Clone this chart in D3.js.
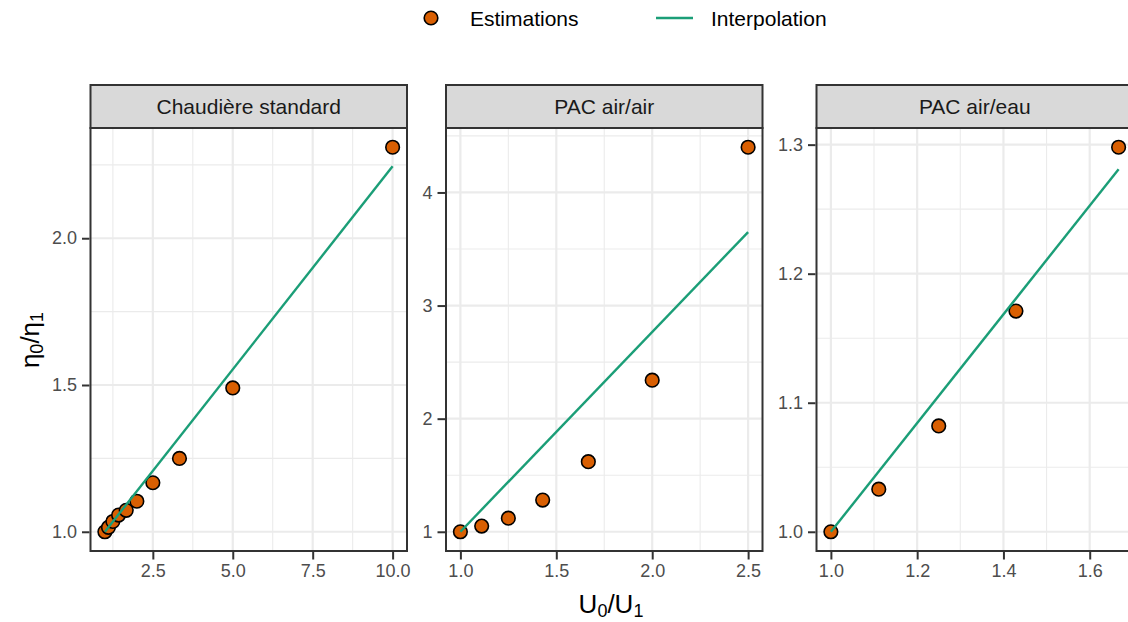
<!DOCTYPE html>
<html>
<head>
<meta charset="utf-8">
<script src="https://cdn.jsdelivr.net/npm/d3@7"></script>
<style>
  html, body { margin: 0; padding: 0; background: #ffffff; }
  svg { display: block; font-family: "Liberation Sans", Arial, Helvetica, sans-serif; }
</style>
</head>
<body>
<svg id="chart" width="1128" height="622"></svg>
<script>
// ---------- DATA ----------
const panelNames = ["Chaudière standard", "PAC air/air", "PAC air/eau"];

const chaudiereX = [1, 1.111, 1.25, 1.429, 1.667, 2, 2.5, 3.333, 5, 10];
const chaudiereY = [1.0, 1.015, 1.035, 1.057, 1.073, 1.104, 1.167, 1.25, 1.49, 2.31];
const chaudiereLineX = [1, 10];
const chaudiereLineY = [1.0, 2.245];

const airAirX = [1, 1.111, 1.25, 1.429, 1.667, 2, 2.5];
const airAirY = [1.0, 1.05, 1.12, 1.28, 1.62, 2.34, 4.40];
const airAirLineX = [1, 2.5];
const airAirLineY = [1.0, 3.65];

const airEauX = [1, 1.111, 1.25, 1.429, 1.667];
const airEauY = [1.0, 1.033, 1.082, 1.171, 1.298];
const airEauLineX = [1, 1.667];
const airEauLineY = [1.0, 1.281];

const chaudiereXTicks = [2.5, 5.0, 7.5, 10.0];
const chaudiereYTicks = [1.0, 1.5, 2.0];
const airAirXTicks = [1.0, 1.5, 2.0, 2.5];
const airAirYTicks = [1, 2, 3, 4];
const airEauXTicks = [1.0, 1.2, 1.4, 1.6];
const airEauYTicks = [1.0, 1.1, 1.2, 1.3];

const legendLabels = ["Estimations", "Interpolation"];

// ---------- STYLE / LAYOUT ----------
const pointFill = "#D95F02";
const lineColor = "#1B9E77";
const panelTop = 128, panelBottom = 551, stripTop = 85;
const panelWidth = 316.5;
const panelLefts = [90.5, 446, 816.5];
const xFormats = [".1f", ".1f", ".1f"];
const yFormats = [".1f", "d", ".1f"];

const panels = [
  { name: panelNames[0], x: chaudiereX, y: chaudiereY, lx: chaudiereLineX, ly: chaudiereLineY, xt: chaudiereXTicks, yt: chaudiereYTicks },
  { name: panelNames[1], x: airAirX, y: airAirY, lx: airAirLineX, ly: airAirLineY, xt: airAirXTicks, yt: airAirYTicks },
  { name: panelNames[2], x: airEauX, y: airEauY, lx: airEauLineX, ly: airEauLineY, xt: airEauXTicks, yt: airEauYTicks }
];

const svg = d3.select("#chart");

function expand(vals) {
  const [a, b] = d3.extent(vals);
  const p = (b - a) * 0.05;
  return [a - p, b + p];
}
function minorTicks(major, domain) {
  const step = major[1] - major[0];
  const out = [];
  out.push(major[0] - step / 2);
  for (let i = 0; i < major.length; i++) out.push(major[i] + step / 2);
  return out.filter(v => v >= domain[0] && v <= domain[1]);
}

panels.forEach((p, i) => {
  const left = panelLefts[i];
  const right = left + panelWidth;
  const xDom = expand(p.x.concat(p.lx));
  const yDom = expand(p.y.concat(p.ly));
  const x = d3.scaleLinear().domain(xDom).range([left, right]);
  const y = d3.scaleLinear().domain(yDom).range([panelBottom, panelTop]);

  const g = svg.append("g");
  const clipId = "clip" + i;
  svg.append("clipPath").attr("id", clipId)
    .append("rect").attr("x", left).attr("y", panelTop).attr("width", panelWidth).attr("height", panelBottom - panelTop);

  g.append("rect").attr("x", left).attr("y", panelTop).attr("width", panelWidth)
    .attr("height", panelBottom - panelTop).attr("fill", "#ffffff");

  const grid = g.append("g").attr("clip-path", `url(#${clipId})`);
  grid.selectAll("line.mx").data(minorTicks(p.xt, xDom)).join("line")
    .attr("x1", d => x(d)).attr("x2", d => x(d)).attr("y1", panelTop).attr("y2", panelBottom)
    .attr("stroke", "#EBEBEB").attr("stroke-width", 1.1);
  grid.selectAll("line.my").data(minorTicks(p.yt, yDom)).join("line")
    .attr("y1", d => y(d)).attr("y2", d => y(d)).attr("x1", left).attr("x2", right)
    .attr("stroke", "#EBEBEB").attr("stroke-width", 1.1);
  grid.append("g").selectAll("line").data(p.xt).join("line")
    .attr("x1", d => x(d)).attr("x2", d => x(d)).attr("y1", panelTop).attr("y2", panelBottom)
    .attr("stroke", "#EBEBEB").attr("stroke-width", 2.2);
  grid.append("g").selectAll("line").data(p.yt).join("line")
    .attr("y1", d => y(d)).attr("y2", d => y(d)).attr("x1", left).attr("x2", right)
    .attr("stroke", "#EBEBEB").attr("stroke-width", 2.2);

  const plot = g.append("g").attr("clip-path", `url(#${clipId})`);
  plot.selectAll("circle").data(p.x.map((v, k) => [v, p.y[k]])).join("circle")
    .attr("cx", d => x(d[0])).attr("cy", d => y(d[1])).attr("r", 6.8)
    .attr("fill", pointFill).attr("stroke", "#000000").attr("stroke-width", 1.6);
  const lineGen = d3.line().x(d => x(d[0])).y(d => y(d[1]));
  plot.append("path").datum(p.lx.map((v, k) => [v, p.ly[k]]))
    .attr("d", lineGen).attr("fill", "none").attr("stroke", lineColor).attr("stroke-width", 2.4);

  g.append("rect").attr("x", left).attr("y", panelTop).attr("width", panelWidth)
    .attr("height", panelBottom - panelTop).attr("fill", "none").attr("stroke", "#333333").attr("stroke-width", 2);

  g.append("rect").attr("x", left).attr("y", stripTop).attr("width", panelWidth)
    .attr("height", panelTop - stripTop).attr("fill", "#D9D9D9").attr("stroke", "#333333").attr("stroke-width", 2);
  g.append("text").attr("x", left + panelWidth / 2).attr("y", (stripTop + panelTop) / 2 + 7.5)
    .attr("text-anchor", "middle").attr("font-size", 21).attr("fill", "#1A1A1A").text(p.name);

  const xAxis = d3.axisBottom(x).tickValues(p.xt).tickFormat(d3.format(xFormats[i])).tickSize(7.5).tickPadding(5);
  const gx = g.append("g").attr("transform", `translate(0,${panelBottom + 1})`).call(xAxis);
  gx.select(".domain").remove();
  gx.selectAll(".tick line").attr("stroke", "#333333").attr("stroke-width", 2);
  gx.selectAll(".tick text").attr("fill", "#4D4D4D").attr("font-size", 18)
    .attr("font-family", "Liberation Sans, Arial, sans-serif");

  const yAxis = d3.axisLeft(y).tickValues(p.yt).tickFormat(d3.format(yFormats[i])).tickSize(7.5).tickPadding(5);
  const gy = g.append("g").attr("transform", `translate(${left - 1},0)`).call(yAxis);
  gy.select(".domain").remove();
  gy.selectAll(".tick line").attr("stroke", "#333333").attr("stroke-width", 2);
  gy.selectAll(".tick text").attr("fill", "#4D4D4D").attr("font-size", 18)
    .attr("font-family", "Liberation Sans, Arial, sans-serif");
});

// axis titles
const xt = svg.append("text").attr("x", 611).attr("y", 613).attr("text-anchor", "middle")
  .attr("font-size", 26).attr("fill", "#000000");
xt.append("tspan").text("U");
xt.append("tspan").attr("font-size", 18).attr("dy", 4).text("0");
xt.append("tspan").attr("dy", -4).text("/U");
xt.append("tspan").attr("font-size", 18).attr("dy", 4).text("1");

const yt = svg.append("text").attr("transform", "translate(39,340) rotate(-90)").attr("text-anchor", "middle")
  .attr("font-size", 26).attr("fill", "#000000");
yt.append("tspan").text("η");
yt.append("tspan").attr("font-size", 18).attr("dy", 4).text("0");
yt.append("tspan").attr("dy", -4).text("/η");
yt.append("tspan").attr("font-size", 18).attr("dy", 4).text("1");

// legend
const leg = svg.append("g");
leg.append("circle").attr("cx", 431).attr("cy", 18).attr("r", 6.8)
  .attr("fill", pointFill).attr("stroke", "#000000").attr("stroke-width", 1.6);
leg.append("text").attr("x", 470).attr("y", 25.5).attr("font-size", 21).attr("fill", "#000000").text(legendLabels[0]);
leg.append("line").attr("x1", 656).attr("x2", 693).attr("y1", 18).attr("y2", 18)
  .attr("stroke", lineColor).attr("stroke-width", 2.4);
leg.append("text").attr("x", 711).attr("y", 25.5).attr("font-size", 21).attr("fill", "#000000").text(legendLabels[1]);
</script>
</body>
</html>
